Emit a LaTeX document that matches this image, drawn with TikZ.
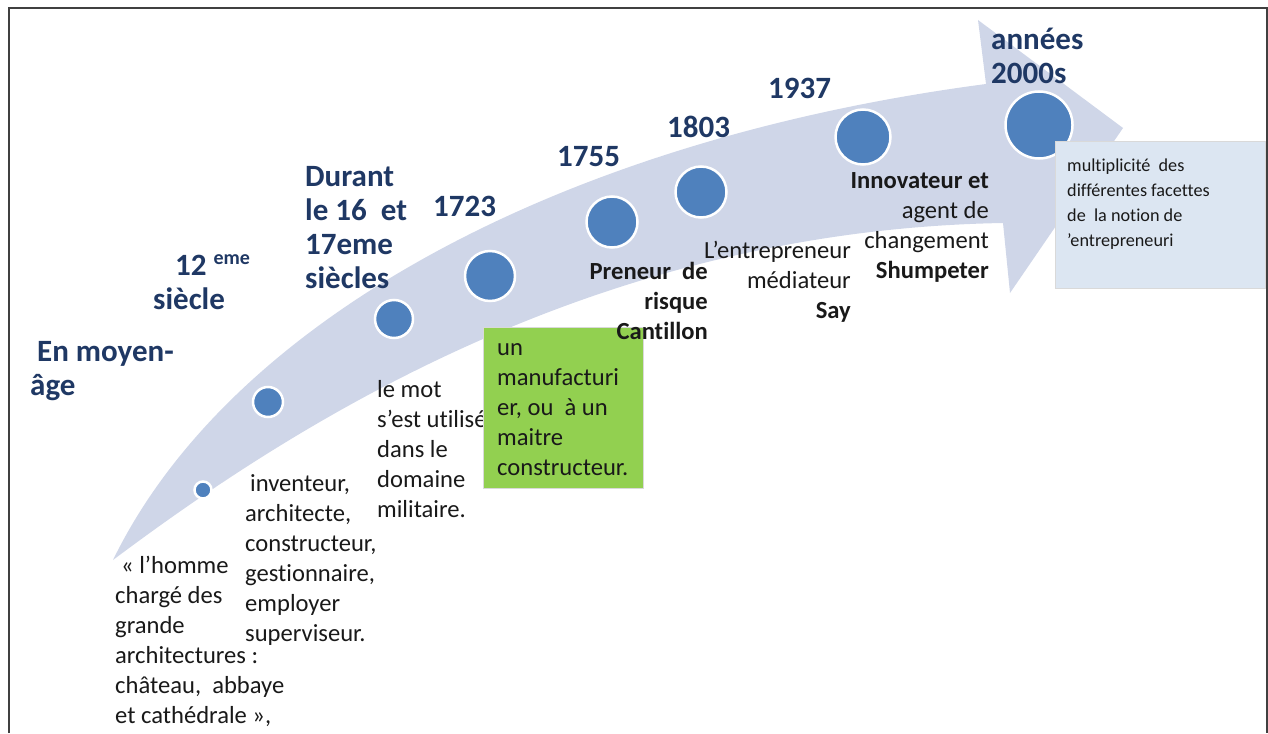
\documentclass[tikz,border=0pt]{standalone}
\usepackage{fontspec}
\setmainfont{Carlito}[Ligatures=NoCommon]
\usepackage{tikz}
\definecolor{Navy}{RGB}{31,56,100}
\definecolor{Band}{RGB}{207,214,232}
\definecolor{Dot}{RGB}{79,129,189}
\definecolor{Leaf}{RGB}{146,208,80}
\definecolor{Pale}{RGB}{220,230,242}
\tikzstyle{dot}=[circle,fill=Dot,draw=white,line width=2.5pt,inner sep=0pt]
\tikzstyle{when}=[inner sep=0pt,align=left,text=Navy,font=\fontsize{31}{34}\selectfont\bfseries]
\tikzstyle{what}=[inner sep=0pt,text=black!90,font=\fontsize{24.6}{30}\selectfont]
\tikzstyle{card}=[inner sep=0pt,draw=black!15,line width=0.8pt,anchor=north west]

\begin{document}
\begin{tikzpicture}[x=1pt,y=-1pt]
\useasboundingbox (0,0) rectangle (1268,733);

% Frame and band
\draw[line width=1.5pt,black!75] (9,733) -- (9,8) -- (1267,8) -- (1267,733);
\fill[Band] (113,560) .. controls (230,320) and (560,140) .. (986,84)
  -- (978,20) -- (1123,128) -- (1010,293) -- (1003,223)
  .. controls (600,230) and (300,420) .. (113,560) -- cycle;

% Dots
\node[dot,minimum size=17pt] (moyen dot)   at (203,490) {};
\node[dot,minimum size=30pt] (douze dot)   at (268,402) {};
\node[dot,minimum size=38pt] (seize dot)   at (394,319) {};
\node[dot,minimum size=50pt] (d1723 dot)   at (490,276) {};
\node[dot,minimum size=51pt] (d1755 dot)   at (612,222) {};
\node[dot,minimum size=51pt] (d1803 dot)   at (701,192) {};
\node[dot,minimum size=55pt] (d1937 dot)   at (863,137) {};
\node[dot,minimum size=67pt] (d2000 dot)   at (1039,125) {};

% Dates
\node[when,anchor=west] (moyen) at (30,371) {\hspace{7pt}En moyen-\\âge};
\node[when,anchor=west] (douze) at (153,282) {\hspace{22pt}12 \raisebox{11pt}{\fontsize{20}{20}\selectfont eme}\\siècle};
\node[when,anchor=west] (seize) at (305,228) {Durant\\le 16\ \ et\\17eme\\siècles};
\node[when,anchor=west] (d1723) at (433,206) {1723};
\node[when,anchor=west] (d1755) at (557,157) {1755};
\node[when,anchor=west] (d1803) at (667,127) {1803};
\node[when,anchor=west] (d1937) at (768,88)  {1937};
\node[when,anchor=west] (d2000) at (991,56)  {années\\2000s};

% Texts
\node[what,align=left,anchor=west] (homme) at (115,641)
  {\hspace{6pt}« l’homme\\chargé des\\grande\\architectures :\\château,\ \ abbaye\\et cathédrale »,};
\node[what,align=left,anchor=west] (inventeur) at (245,560)
  {\hspace{5pt}inventeur,\\architecte,\\constructeur,\\gestionnaire,\\employer\\superviseur.};
\node[what,align=left,anchor=west] (mot) at (377,449)
  {le mot\\s’est utilisé\\dans le\\domaine\\militaire.};
\node[card,fill=Leaf,minimum width=160pt,minimum height=161pt] (green) at (483,327) {};
\node[what,align=left,anchor=west] (manufacturier) at (497,410)
  {un\\manufacturi\\er, ou\ \ à un\\maitre\\constructeur.};
\node[what,align=right,anchor=east] (risque) at (708,301)
  {\textbf{Preneur\ \ de}\\\textbf{risque}\\\textbf{Cantillon}};
\node[what,align=right,anchor=east] (say) at (851,282)
  {L’entrepreneur\\médiateur\\\textbf{Say}};
\node[what,align=right,anchor=east] (shumpeter) at (989,227)
  {\textbf{Innovateur et}\\agent de\\changement\\\textbf{Shumpeter}};
\node[card,fill=Pale,minimum width=210pt,minimum height=147pt] (facettes box) at (1055,141) {};
\node[what,align=left,anchor=west,font=\fontsize{18.2}{25}\selectfont] (facettes) at (1067,204)
  {multiplicité\ \ des\\différentes facettes\\de\ \ la notion de\\’entrepreneuri};

\end{tikzpicture}
\end{document}
